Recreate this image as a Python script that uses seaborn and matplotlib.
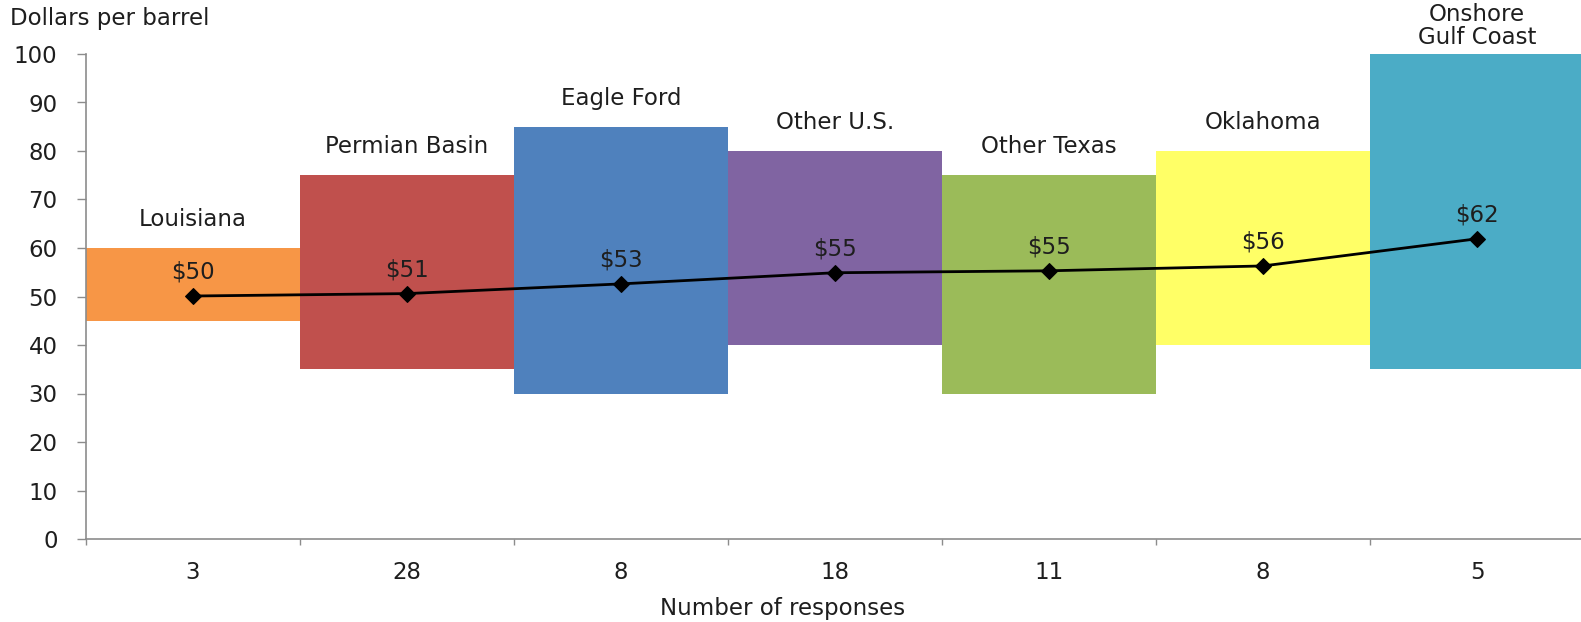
import matplotlib
matplotlib.use("Agg")
import matplotlib.pyplot as plt
import seaborn as sns
import pandas as pd
from matplotlib.ticker import FixedLocator

# Price ranges and averages by region (dollars per barrel)
regions = ["Louisiana", "Permian Basin", "Eagle Ford", "Other U.S.",
           "Other Texas", "Oklahoma", "Onshore\nGulf Coast"]
responses = ["3", "28", "8", "18", "11", "8", "5"]
low = [45, 35, 30, 40, 30, 40, 35]
high = [60, 75, 85, 80, 75, 80, 100]
average = [50.1, 50.6, 52.6, 54.9, 55.3, 56.3, 61.9]
colors = ["#F79646", "#C0504D", "#4F81BD", "#8064A2",
          "#9BBB59", "#FFFF66", "#4BACC6"]

sns.set_theme(style="white")
plt.rcParams["font.family"] = ["DejaVu Sans"]
text_color = "#1e1e1e"
axis_color = "#8c8c8c"
fs = 16.5

df = pd.DataFrame({
    "region": regions,
    "span": [h - l for h, l in zip(high, low)],
    "low": low,
    "high": high,
    "average": average,
})

W, H = 1581, 622
fig = plt.figure(figsize=(W / 100, H / 100), dpi=100)
ax = fig.add_axes([86 / W, 83 / H, 1498 / W, 485 / H])

# Floating range bars: bar height is the span, then lifted to the low value
sns.barplot(data=df, x="region", y="span", hue="region", palette=colors,
            order=regions, hue_order=regions, dodge=False, width=1.0,
            legend=False, linewidth=0, saturation=1, ax=ax)
for p in ax.patches:
    i = int(round(p.get_x() + p.get_width() / 2))
    p.set_y(low[i])

# Average price line
sns.lineplot(x=list(range(len(regions))), y=average, color="black",
             marker="D", markersize=8, markeredgecolor="black",
             linewidth=2, ax=ax, zorder=5)

for i, v in enumerate(average):
    ax.annotate(f"${v:.0f}", (i, v), xytext=(0, 17), textcoords="offset points",
                ha="center", va="center", fontsize=fs, color=text_color)

for i, name in enumerate(regions):
    ax.annotate(name, (i, high[i]), xytext=(0, 20.5), textcoords="offset points",
                ha="center", va="center", fontsize=fs, color=text_color,
                linespacing=1.0, annotation_clip=False)

ax.set_xlim(-0.5, len(regions) - 0.5)
ax.set_ylim(0, 100)
ax.set_yticks(range(0, 101, 10))
ax.set_xticks(range(len(regions)))
ax.set_xticklabels(responses)
ax.xaxis.set_minor_locator(FixedLocator([i - 0.5 for i in range(len(regions) + 1)]))
ax.set_xlabel("")
ax.set_ylabel("")

ax.tick_params(axis="y", which="major", length=6.5, width=1, color=axis_color,
               pad=14, labelsize=fs, labelcolor=text_color, left=True)
ax.tick_params(axis="x", which="major", length=0, pad=16,
               labelsize=fs, labelcolor=text_color)
ax.tick_params(axis="x", which="minor", length=4.5, width=1, color=axis_color,
               bottom=True)

for side in ["top", "right"]:
    ax.spines[side].set_visible(False)
for side in ["left", "bottom"]:
    ax.spines[side].set_color(axis_color)
    ax.spines[side].set_linewidth(1.2)

fig.text(10 / W, 1 - 19 / H, "Dollars per barrel", ha="left", va="center",
         fontsize=fs, color=text_color)
fig.text(783 / W, 1 - 609 / H, "Number of responses", ha="center", va="center",
         fontsize=fs, color=text_color)

fig.savefig("out.png", dpi=100)
